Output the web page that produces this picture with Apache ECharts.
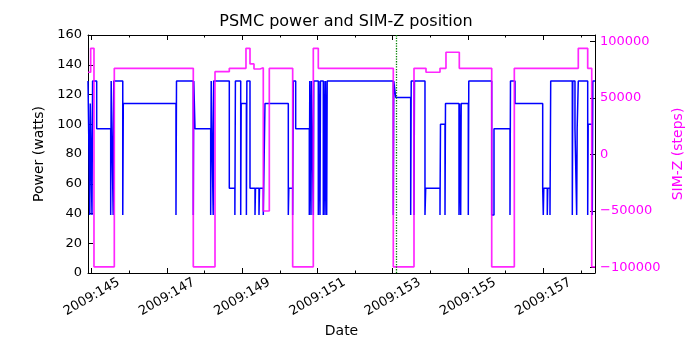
<!DOCTYPE html>
<html>
<head>
<meta charset="utf-8">
<script src="https://cdn.jsdelivr.net/npm/echarts@6/dist/echarts.min.js"></script>
<style>
  html, body { margin: 0; padding: 0; background: #fff; }
  #chart { width: 700px; height: 350px; }
</style>
</head>
<body>
<div id="chart"></div>
<script>
// Day-of-year 2009, value held until the next step
const powerSteps = [
  [144.902, 129], [144.950, 39], [144.963, 114], [145.008, 39], [145.024, 129],
  [145.133, 97], [145.505, 39], [145.518, 129], [145.571, 39], [145.587, 129],
  [145.826, 39], [145.840, 114], [147.240, 39], [147.254, 129], [147.700, 39],
  [147.713, 129], [147.745, 97], [148.162, 39], [148.176, 129], [148.229, 39],
  [148.242, 129], [148.657, 57], [148.805, 39], [148.819, 129], [148.960, 39],
  [148.973, 114], [149.111, 39], [149.124, 129], [149.207, 57], [149.340, 39],
  [149.353, 57], [149.446, 39], [149.459, 57], [149.560, 39], [149.605, 114],
  [150.225, 39], [150.238, 57], [150.341, 39], [150.357, 129], [150.421, 97],
  [150.783, 39], [150.796, 129], [150.828, 39], [150.841, 129], [150.889, 39],
  [150.902, 129], [151.022, 39], [151.035, 129], [151.067, 39], [151.080, 129],
  [151.155, 39], [151.168, 129], [151.200, 39], [151.213, 129], [151.245, 39],
  [151.258, 129], [153.015, 39], [153.028, 129], [153.079, 118], [153.477, 39],
  [153.491, 129], [153.565, 39], [153.578, 129], [153.857, 39], [153.876, 57],
  [154.256, 39], [154.269, 100], [154.389, 39], [154.402, 114], [154.761, 39],
  [154.774, 114], [154.806, 39], [154.819, 114], [155.008, 39], [155.021, 129],
  [155.630, 39], [155.691, 97], [156.116, 39], [156.129, 129], [156.249, 114],
  [156.985, 57], [157.001, 39], [157.014, 57], [157.107, 39], [157.120, 57],
  [157.179, 39], [157.198, 129], [157.772, 39], [157.785, 129], [157.843, 97],
  [157.888, 39], [157.901, 97], [157.931, 129], [158.181, 39], [158.194, 100],
  [158.303, 39], [158.317, 129], [158.375, 129]
];

const simzSteps = [
  [144.902, 72600], [144.973, 93800], [145.061, -99600], [145.601, 76100],
  [147.700, -99600], [148.277, 73100], [148.657, 76100], [149.100, 93800],
  [149.207, 80000], [149.313, 75500], [149.473, 76600], [149.560, -50200],
  [149.720, 76100], [150.341, -99600], [150.889, 93800], [151.022, 76100],
  [153.015, -99600], [153.565, 76100], [153.884, 72600], [154.256, 76100],
  [154.415, 90300], [154.769, 76100], [155.630, -99600], [156.231, 76100],
  [157.931, 93800], [158.181, 76100], [158.288, -99600], [158.375, -99600]
];

const eventDay = 153.085;

const majorDays = [145, 147, 149, 151, 153, 155, 157];
const minorDays = [146, 148, 150, 152, 154, 156, 158];
const simzTicks = [-100000, -50000, 0, 50000, 100000];

const xMin = 144.902;
const xMax = 158.375;
const FONT = 'DejaVu Sans';

const chart = echarts.init(document.getElementById('chart'), null, { renderer: 'canvas' });

function tickAxis(position, values, len, withLine) {
  return {
    type: 'value', position: position, min: xMin, max: xMax,
    axisLine: { show: withLine, onZero: false, lineStyle: { color: '#000', width: 1 } },
    axisTick: { show: true, inside: true, length: len, customValues: values,
      lineStyle: { color: '#000', width: 1 } },
    axisLabel: { show: false },
    splitLine: { show: false }
  };
}

const bottomAxis = tickAxis('bottom', majorDays, 5, true);
bottomAxis.axisLabel = {
  show: true, customValues: majorDays, rotate: 30,
  align: 'center', verticalAlign: 'middle', margin: 24,
  color: '#000', fontFamily: FONT, fontSize: 13,
  formatter: v => '2009:' + Math.round(v)
};
bottomAxis.name = 'Date';
bottomAxis.nameLocation = 'middle';
bottomAxis.nameGap = 51;
bottomAxis.nameTextStyle = { color: '#000', fontFamily: FONT, fontSize: 14 };

chart.setOption({
  animation: false,
  backgroundColor: '#fff',
  title: {
    text: 'PSMC power and SIM-Z position',
    left: 341, top: 9, textAlign: 'center',
    textStyle: { color: '#000', fontFamily: FONT, fontSize: 16, fontWeight: 'normal' }
  },
  grid: { left: 88, right: 105, top: 35, bottom: 77, containLabel: false, outerBoundsMode: 'none' },
  xAxis: [
    bottomAxis,
    tickAxis('top', majorDays, 5, true),
    tickAxis('bottom', minorDays, 2.5, false),
    tickAxis('top', minorDays, 2.5, false)
  ],
  yAxis: [
    {
      type: 'value', position: 'left', min: 0, max: 160, interval: 20,
      name: 'Power (watts)', nameLocation: 'middle', nameGap: 38, nameRotate: 90,
      nameTextStyle: { color: '#000', fontFamily: FONT, fontSize: 14 },
      axisLine: { show: true, lineStyle: { color: '#000', width: 1 } },
      axisTick: { inside: true, length: 5, lineStyle: { color: '#000' } },
      axisLabel: { color: '#000', fontFamily: FONT, fontSize: 13, margin: 6 },
      splitLine: { show: false }
    },
    {
      type: 'value', position: 'right', min: -105050, max: 105580,
      name: 'SIM-Z (steps)', nameLocation: 'middle', nameGap: 74, nameRotate: 90,
      nameTextStyle: { color: '#ff00ff', fontFamily: FONT, fontSize: 14 },
      axisLine: { show: true, lineStyle: { color: '#000', width: 1 } },
      axisTick: { inside: true, length: 5, customValues: simzTicks, lineStyle: { color: '#000' } },
      axisLabel: {
        customValues: simzTicks, color: '#ff00ff', fontFamily: FONT, fontSize: 13, margin: 5,
        formatter: v => String(v).replace('-', '\u2212')
      },
      splitLine: { show: false }
    }
  ],
  series: [
    {
      name: 'Power', type: 'line', xAxisIndex: 0, yAxisIndex: 0,
      data: powerSteps, step: 'end', showSymbol: false, symbol: 'none',
      lineStyle: { color: '#0000ff', width: 1.5 },
      z: 2,
      markLine: {
        silent: true, symbol: 'none', label: { show: false },
        lineStyle: { color: '#008000', type: 'dotted', width: 1.3 },
        data: [{ xAxis: eventDay }]
      }
    },
    {
      name: 'SIM-Z', type: 'line', xAxisIndex: 0, yAxisIndex: 1,
      data: simzSteps, step: 'end', showSymbol: false, symbol: 'none',
      lineStyle: { color: '#ff00ff', width: 1.7, opacity: 0.85 },
      z: 3
    }
  ]
});
</script>
</body>
</html>
